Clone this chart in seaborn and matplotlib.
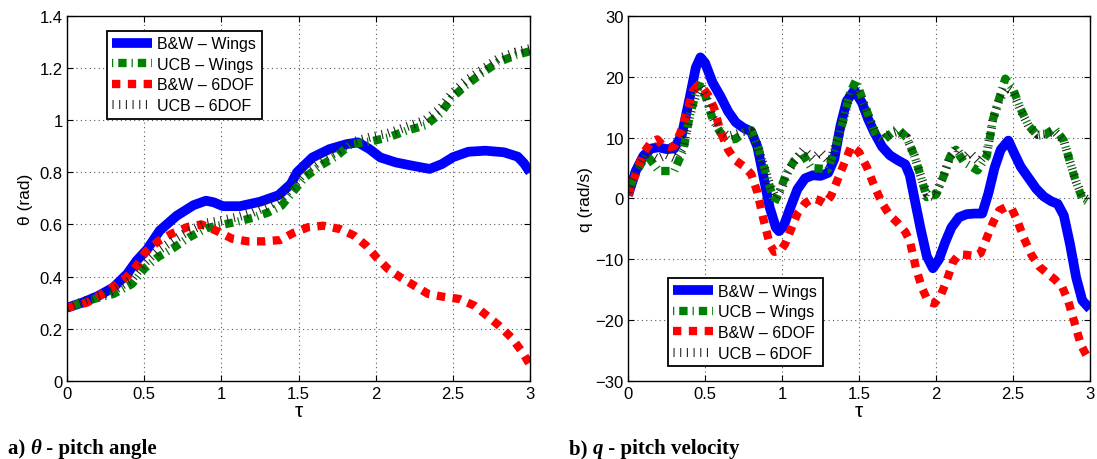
import matplotlib
matplotlib.use("Agg")
import matplotlib.pyplot as plt
import seaborn as sns
import pandas as pd

# ---------------- pitch angle theta (rad) ----------------
tau_bw_wings_a = [0, 0.1, 0.2, 0.3, 0.39, 0.45, 0.52, 0.6, 0.71, 0.82, 0.9, 0.95, 1.01, 1.12,
                  1.25, 1.37, 1.45, 1.49, 1.59, 1.70, 1.81, 1.885, 1.96, 2.03, 2.13, 2.24, 2.35,
                  2.43, 2.50, 2.60, 2.71, 2.83, 2.92, 2.96, 3.0]
theta_bw_wings = [0.28, 0.30, 0.325, 0.358, 0.41, 0.46, 0.505, 0.576, 0.633, 0.674, 0.691, 0.685,
                  0.670, 0.670, 0.687, 0.712, 0.755, 0.80, 0.857, 0.889, 0.908, 0.915, 0.889,
                  0.857, 0.838, 0.825, 0.813, 0.832, 0.858, 0.879, 0.883, 0.877, 0.86, 0.835, 0.80]

tau_ucb_wings_a = [0, 0.15, 0.30, 0.42, 0.50, 0.59, 0.69, 0.79, 0.90, 1.0, 1.1, 1.2, 1.3, 1.39,
                   1.465, 1.54, 1.64, 1.75, 1.84, 1.965, 2.08, 2.20, 2.32, 2.42, 2.49, 2.58,
                   2.68, 2.79, 2.91, 3.0]
theta_ucb_wings = [0.28, 0.31, 0.333, 0.371, 0.43, 0.475, 0.51, 0.55, 0.585, 0.598, 0.61, 0.625,
                   0.645, 0.672, 0.726, 0.78, 0.825, 0.864, 0.909, 0.918, 0.934, 0.96, 0.98,
                   1.026, 1.084, 1.132, 1.177, 1.222, 1.25, 1.265]

tau_bw_6dof_a = [0, 0.13, 0.22, 0.30, 0.39, 0.45, 0.51, 0.59, 0.68, 0.78, 0.87, 0.97, 1.07, 1.17,
                 1.28, 1.38, 1.465, 1.56, 1.66, 1.77, 1.86, 1.94, 2.01, 2.08, 2.16, 2.25, 2.34,
                 2.43, 2.54, 2.64, 2.72, 2.80, 2.88, 2.95, 3.0]
theta_bw_6dof = [0.28, 0.30, 0.33, 0.36, 0.40, 0.44, 0.495, 0.535, 0.565, 0.59, 0.60, 0.575,
                 0.545, 0.535, 0.535, 0.54, 0.567, 0.589, 0.595, 0.582, 0.557, 0.518, 0.47,
                 0.429, 0.397, 0.365, 0.333, 0.323, 0.314, 0.288, 0.25, 0.211, 0.165, 0.11, 0.06]

tau_ucb_6dof_a = [0, 0.15, 0.30, 0.42, 0.50, 0.59, 0.69, 0.79, 0.90, 1.0, 1.1, 1.2, 1.3, 1.39,
                  1.465, 1.54, 1.64, 1.75, 1.84, 1.965, 2.08, 2.20, 2.32, 2.42, 2.49, 2.58,
                  2.68, 2.79, 2.91, 3.0]
theta_ucb_6dof = [0.28, 0.315, 0.345, 0.39, 0.45, 0.50, 0.54, 0.575, 0.605, 0.615, 0.628, 0.645,
                  0.67, 0.70, 0.75, 0.80, 0.845, 0.88, 0.915, 0.935, 0.95, 0.975, 1.0, 1.045,
                  1.10, 1.15, 1.19, 1.235, 1.262, 1.275]

# ---------------- pitch velocity q (rad/s) ----------------
tau_bw_wings_b = [0.00, 0.05, 0.10, 0.15, 0.20, 0.25, 0.30, 0.35, 0.40, 0.44, 0.47, 0.50, 0.55,
                  0.60, 0.65, 0.70, 0.75, 0.80, 0.84, 0.88, 0.92, 0.96, 0.98, 1.01, 1.05, 1.10,
                  1.15, 1.20, 1.25, 1.30, 1.34, 1.38, 1.42, 1.47, 1.52, 1.56, 1.60, 1.65, 1.70,
                  1.75, 1.80, 1.83, 1.86, 1.90, 1.94, 1.98, 2.02, 2.06, 2.10, 2.15, 2.20, 2.25,
                  2.30, 2.34, 2.38, 2.42, 2.47, 2.51, 2.55, 2.60, 2.65, 2.70, 2.75, 2.79, 2.83,
                  2.87, 2.91, 2.95, 3.00]
q_bw_wings = [0.5, 4.5, 7.0, 8.2, 8.4, 8.1, 8.2, 10.5, 16.5, 21.5, 23.2, 22.3, 19.0, 16.8, 14.3,
              12.5, 11.6, 11.0, 8.5, 3.5, -1.5, -4.8, -5.4, -4.6, -1.8, 1.5, 3.3, 3.8, 3.7, 4.2,
              6.5, 12.0, 16.0, 17.8, 15.7, 13.0, 10.8, 8.5, 7.1, 6.3, 5.6, 3.8, 0.0, -5.0, -9.5,
              -11.5, -10.0, -7.2, -4.8, -3.1, -2.6, -2.5, -2.5, 0.8, 5.0, 8.0, 9.5, 7.3, 5.2,
              3.4, 1.6, 0.3, -0.5, -0.9, -2.8, -7.5, -13.0, -16.8, -18.2]

tau_ucb_wings_b = [0.00, 0.05, 0.12, 0.20, 0.30, 0.36, 0.40, 0.44, 0.47, 0.51, 0.55, 0.60, 0.65,
                   0.70, 0.75, 0.80, 0.84, 0.88, 0.92, 0.95, 0.99, 1.03, 1.08, 1.13, 1.19, 1.30,
                   1.35, 1.40, 1.44, 1.48, 1.53, 1.57, 1.61, 1.66, 1.70, 1.75, 1.81, 1.86, 1.90,
                   1.94, 2.00, 2.05, 2.09, 2.13, 2.18, 2.27, 2.33, 2.37, 2.41, 2.45, 2.50, 2.55,
                   2.60, 2.66, 2.71, 2.77, 2.83, 2.87, 2.91, 2.95, 3.00]
q_ucb_wings = [1.0, 4.2, 7.2, 4.5, 4.5, 8.0, 13.5, 17.2, 19.2, 16.3, 13.0, 10.8, 9.6, 9.8, 10.8,
               11.2, 8.8, 5.5, 2.0, -0.7, 1.5, 4.2, 6.2, 7.5, 5.0, 4.8, 8.6, 13.0, 17.2, 19.4,
               15.8, 13.1, 10.4, 9.6, 10.5, 11.5, 10.0, 7.0, 3.7, 0.2, 0.6, 3.7, 6.8, 8.0, 6.0,
               4.6, 7.0, 13.0, 16.4, 19.7, 18.0, 14.7, 12.0, 10.3, 10.5, 11.5, 9.5, 6.0, 2.6,
               0.0, -0.8]

tau_bw_6dof_b = [0.00, 0.05, 0.10, 0.15, 0.19, 0.23, 0.27, 0.30, 0.34, 0.38, 0.42, 0.45, 0.48,
                 0.52, 0.56, 0.60, 0.65, 0.70, 0.75, 0.80, 0.84, 0.88, 0.92, 0.95, 0.99, 1.02,
                 1.06, 1.10, 1.15, 1.20, 1.24, 1.28, 1.32, 1.36, 1.40, 1.45, 1.50, 1.55, 1.60,
                 1.65, 1.70, 1.75, 1.80, 1.83, 1.87, 1.91, 1.95, 1.99, 2.03, 2.07, 2.11, 2.15,
                 2.20, 2.25, 2.29, 2.33, 2.37, 2.41, 2.45, 2.49, 2.53, 2.57, 2.62, 2.67, 2.72,
                 2.77, 2.82, 2.86, 2.90, 2.94, 2.97, 3.00]
q_bw_6dof = [0.5, 4.0, 7.5, 9.2, 9.7, 8.6, 8.4, 8.6, 10.8, 14.0, 17.6, 18.5, 18.4, 17.0, 14.8,
             11.0, 8.0, 6.2, 5.3, 4.0, 1.0, -3.5, -7.5, -8.8, -8.6, -7.5, -5.0, -2.5, -0.8, 0.0,
             -0.3, -0.9, 0.5, 3.0, 5.5, 8.6, 7.6, 5.2, 2.0, -0.8, -2.8, -4.0, -5.5, -7.0, -11.5,
             -14.8, -17.0, -17.3, -16.0, -13.5, -10.5, -9.2, -9.3, -9.5, -9.0, -6.5, -4.0, -2.0,
             -1.5, -1.6, -3.8, -6.5, -9.3, -11.2, -12.3, -13.3, -14.6, -17.0, -20.5, -24.0,
             -25.5, -26.8]

tau_ucb_6dof_b = [0.00, 0.05, 0.12, 0.19, 0.25, 0.31, 0.36, 0.40, 0.44, 0.47, 0.51, 0.55, 0.60,
                  0.65, 0.70, 0.75, 0.80, 0.84, 0.88, 0.92, 0.96, 1.00, 1.04, 1.09, 1.14, 1.20,
                  1.25, 1.31, 1.35, 1.40, 1.44, 1.48, 1.53, 1.57, 1.61, 1.66, 1.70, 1.75, 1.81,
                  1.86, 1.90, 1.94, 1.99, 2.05, 2.09, 2.13, 2.18, 2.22, 2.28, 2.33, 2.37, 2.41,
                  2.46, 2.50, 2.55, 2.60, 2.66, 2.70, 2.77, 2.83, 2.87, 2.91, 2.95, 3.00]
q_ucb_6dof = [1.0, 4.5, 7.5, 6.5, 7.2, 6.5, 8.5, 13.5, 17.0, 18.3, 16.5, 13.3, 11.2, 10.2, 10.5,
              11.0, 11.0, 8.8, 5.5, 2.3, 0.0, 1.8, 4.5, 6.5, 8.0, 6.5, 7.6, 6.0, 8.8, 13.2, 17.0,
              18.0, 15.5, 13.0, 10.5, 10.0, 10.6, 11.0, 10.0, 7.0, 3.8, 0.8, 0.2, 3.8, 6.8, 8.2,
              6.5, 7.5, 6.0, 7.5, 13.0, 16.2, 18.2, 17.5, 14.5, 12.0, 10.5, 10.6, 11.0, 9.5, 6.0,
              2.8, 0.3, -0.5]

series_labels = ["B&W \u2013 Wings", "UCB \u2013 Wings", "B&W \u2013 6DOF", "UCB \u2013 6DOF"]
x_ticks = [0, 0.5, 1, 1.5, 2, 2.5, 3]
theta_ticks = [0, 0.2, 0.4, 0.6, 0.8, 1.0, 1.2, 1.4]
theta_ticklabels = ["0", "0.2", "0.4", "0.6", "0.8", "1", "1.2", "1.4"]
q_ticks = [-30, -20, -10, 0, 10, 20, 30]

# ---------------- styling ----------------
sns.set_style("ticks")
plt.rcParams["font.family"] = ["Liberation Sans", "DejaVu Sans"]
plt.rcParams.update({
    "xtick.direction": "in", "ytick.direction": "in",
    "xtick.top": True, "ytick.right": True,
    "xtick.major.size": 4, "ytick.major.size": 4,
    "xtick.major.width": 0.8, "ytick.major.width": 0.8,
    "xtick.major.pad": 4, "ytick.major.pad": 3,
    "xtick.labelsize": 12, "ytick.labelsize": 12,
    "xtick.color": "black", "ytick.color": "black",
    "axes.edgecolor": "black", "axes.linewidth": 1.0,
    "axes.labelsize": 12.5, "axes.labelcolor": "black",
    "text.color": "black",
})

styles = [
    dict(color="#0000ff", lw=7.0, linestyle="-"),
    dict(color="#008000", lw=6.0, linestyle=(0, (0.15, 0.6, 1.0, 0.6))),
    dict(color="#ff0000", lw=6.0, linestyle=(0, (1.0, 0.9))),
    dict(color="#222222", lw=6.5, linestyle=(0, (0.12, 0.62))),
]

fig = plt.figure(figsize=(10.97, 4.60), dpi=100)
ax_a = fig.add_axes([0.0611, 0.1702, 0.4221, 0.7928])
ax_b = fig.add_axes([0.5725, 0.1702, 0.4211, 0.7928])


def draw_panel(ax, curves):
    for (tx, vals), lab, st in zip(curves, series_labels, styles):
        df = pd.DataFrame({"tau": tx, "val": vals})
        sns.lineplot(data=df, x="tau", y="val", ax=ax, label=lab, sort=False,
                     solid_capstyle="butt", dash_capstyle="butt",
                     solid_joinstyle="round", **st)
    ax.set_xlim(0, 3)
    ax.set_xticks(x_ticks)
    ax.set_xticklabels(["0", "0.5", "1", "1.5", "2", "2.5", "3"])
    ax.grid(True, color="0.35", linestyle=(0, (1, 3)), linewidth=0.8)
    ax.set_axisbelow(True)
    ax.set_xlabel("\u03c4", fontsize=15, labelpad=0)
    for sp in ax.spines.values():
        sp.set_visible(True)
        sp.set_color("black")


draw_panel(ax_a, [(tau_bw_wings_a, theta_bw_wings), (tau_ucb_wings_a, theta_ucb_wings),
                  (tau_bw_6dof_a, theta_bw_6dof), (tau_ucb_6dof_a, theta_ucb_6dof)])
ax_a.set_ylim(0, 1.4)
ax_a.set_yticks(theta_ticks)
ax_a.set_yticklabels(theta_ticklabels)
ax_a.set_ylabel("\u03b8 (rad)", labelpad=5)

draw_panel(ax_b, [(tau_bw_wings_b, q_bw_wings), (tau_ucb_wings_b, q_ucb_wings),
                  (tau_bw_6dof_b, q_bw_6dof), (tau_ucb_6dof_b, q_ucb_6dof)])
ax_b.set_ylim(-30, 30)
ax_b.set_yticks(q_ticks)
ax_b.set_ylabel("q (rad/s)", labelpad=2)

legend_kw = dict(frameon=True, fancybox=False, framealpha=1.0, edgecolor="black",
                 fontsize=11.5, handlelength=2.5, handletextpad=0.3, borderpad=0.35,
                 labelspacing=0.35, borderaxespad=0.0)
leg_a = ax_a.legend(loc="upper left", bbox_to_anchor=(0.086, 0.96), **legend_kw)
leg_b = ax_b.legend(loc="lower left", bbox_to_anchor=(0.086, 0.04), **legend_kw)
for leg in (leg_a, leg_b):
    leg.get_frame().set_linewidth(1.3)

# panel captions with bold-italic symbols
renderer = fig.canvas.get_renderer()


def caption(x, y, parts):
    for txt, style in parts:
        t = fig.text(x, y, txt, family=["Liberation Serif", "DejaVu Serif"], weight="bold",
                     style=style, fontsize=15, va="baseline", ha="left")
        bb = t.get_window_extent(renderer=renderer)
        x = fig.transFigure.inverted().transform((bb.x1, bb.y0))[0]


caption(8 / 1097, 6 / 460, [("a) ", "normal"), ("\u03b8", "italic"), (" - pitch angle", "normal")])
caption(569 / 1097, 6 / 460, [("b) ", "normal"), ("q", "italic"), (" - pitch velocity", "normal")])

fig.savefig("out.png", dpi=100)
